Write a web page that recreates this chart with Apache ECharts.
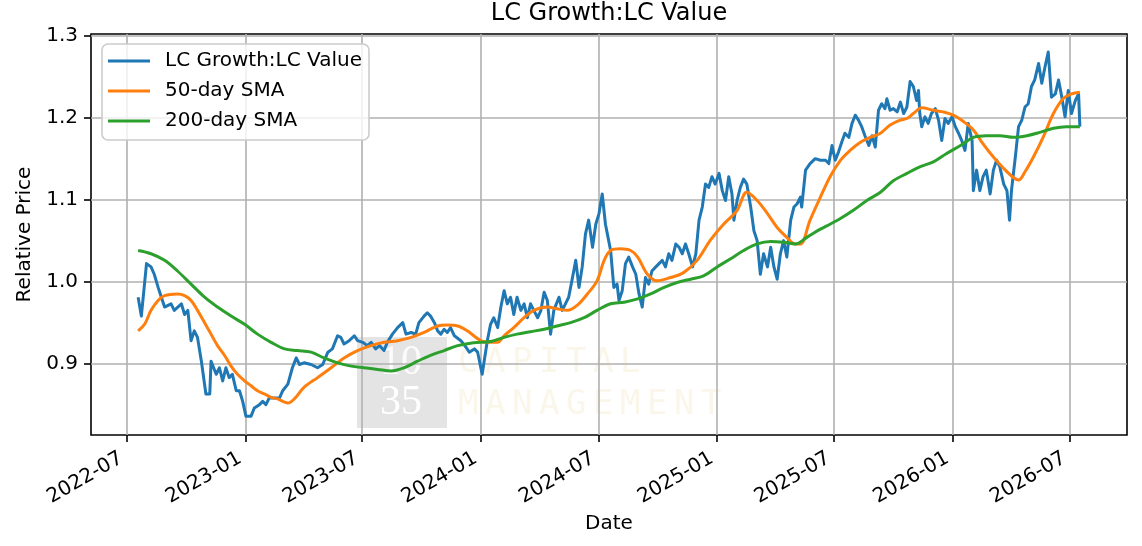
<!DOCTYPE html>
<html>
<head>
<meta charset="utf-8">
<title>LC Growth:LC Value</title>
<style>
  html, body { margin: 0; padding: 0; background: #fff; }
  #chart { width: 1142px; height: 546px; }
</style>
<script src="https://cdn.jsdelivr.net/npm/echarts@6/dist/echarts.min.js"></script>
</head>
<body>
<div id="chart"></div>
<script>
/* LC Growth : LC Value relative price with 50/200-day SMAs, matplotlib look */

const SERIES_NAMES = ["LC Growth:LC Value", "50-day SMA", "200-day SMA"];

const xTickLabels = ["2022-07", "2023-01", "2023-07", "2024-01", "2024-07",
                     "2025-01", "2025-07", "2026-01", "2026-07"];
const yTickValues = [0.9, 1.0, 1.1, 1.2, 1.3];

const priceDates = [
  "2022-07-19","2022-07-24","2022-08-01","2022-08-08","2022-08-13","2022-08-19","2022-08-24","2022-08-29",
  "2022-09-08","2022-09-13","2022-09-24","2022-09-29","2022-10-04","2022-10-09","2022-10-14","2022-10-19",
  "2022-10-25","2022-11-01","2022-11-07","2022-11-09","2022-11-17","2022-11-22","2022-11-27","2022-12-02",
  "2022-12-07","2022-12-12","2022-12-18","2022-12-23","2022-12-28",
  "2023-01-02","2023-01-10","2023-01-15","2023-01-23","2023-01-28","2023-02-02","2023-02-07","2023-02-15",
  "2023-02-23","2023-02-28","2023-03-08","2023-03-15","2023-03-21","2023-03-26","2023-04-02","2023-04-13",
  "2023-04-23","2023-05-01","2023-05-09","2023-05-16","2023-05-24","2023-05-29","2023-06-03","2023-06-11",
  "2023-06-19","2023-06-24","2023-07-02","2023-07-09","2023-07-15","2023-07-22","2023-07-28","2023-08-04",
  "2023-08-09","2023-08-17","2023-08-25","2023-09-02","2023-09-07","2023-09-15","2023-09-22","2023-09-27",
  "2023-10-05","2023-10-10","2023-10-15","2023-10-21","2023-10-26","2023-10-31","2023-11-05","2023-11-10",
  "2023-11-15","2023-11-21","2023-12-01","2023-12-09","2023-12-14","2023-12-22","2023-12-27",
  "2024-01-03","2024-01-11","2024-01-16","2024-01-21","2024-01-27","2024-02-01","2024-02-06","2024-02-11",
  "2024-02-16","2024-02-21","2024-02-26","2024-03-03","2024-03-08","2024-03-13","2024-03-18","2024-03-23",
  "2024-03-29","2024-04-03","2024-04-08","2024-04-13","2024-04-18","2024-04-23","2024-05-01","2024-05-06",
  "2024-05-11","2024-05-16","2024-05-21","2024-05-27","2024-06-01","2024-06-06","2024-06-11","2024-06-16",
  "2024-06-22","2024-06-27","2024-07-02","2024-07-07","2024-07-10","2024-07-12","2024-07-15","2024-07-20",
  "2024-07-25","2024-07-30","2024-08-02","2024-08-07","2024-08-12","2024-08-17","2024-08-23","2024-08-28",
  "2024-09-02","2024-09-07","2024-09-12","2024-09-17","2024-09-22","2024-09-28","2024-10-03","2024-10-08",
  "2024-10-13","2024-10-18","2024-10-23","2024-10-29","2024-11-03","2024-11-08","2024-11-13","2024-11-18",
  "2024-11-24","2024-11-29","2024-12-04","2024-12-09","2024-12-14","2024-12-19","2024-12-24","2024-12-29",
  "2025-01-04","2025-01-09","2025-01-14","2025-01-19","2025-01-24","2025-01-27","2025-02-01","2025-02-06",
  "2025-02-11","2025-02-16","2025-02-22","2025-02-27","2025-03-04","2025-03-09","2025-03-14","2025-03-20",
  "2025-03-25","2025-03-30","2025-04-04","2025-04-09","2025-04-14","2025-04-19","2025-04-25","2025-04-30",
  "2025-05-05","2025-05-10","2025-05-12","2025-05-18","2025-05-25","2025-06-02","2025-06-10","2025-06-18",
  "2025-06-23","2025-06-28","2025-07-03","2025-07-08","2025-07-13","2025-07-18","2025-07-24","2025-07-29",
  "2025-08-03","2025-08-08","2025-08-13","2025-08-18","2025-08-24","2025-08-29","2025-09-03","2025-09-08",
  "2025-09-13","2025-09-18","2025-09-21","2025-09-26","2025-10-01","2025-10-07","2025-10-12","2025-10-17",
  "2025-10-22","2025-10-27","2025-11-01","2025-11-06","2025-11-09","2025-11-11","2025-11-14","2025-11-19",
  "2025-11-24","2025-11-29","2025-12-05","2025-12-10","2025-12-15","2025-12-20","2025-12-25","2025-12-31",
  "2026-01-05","2026-01-10","2026-01-15","2026-01-20","2026-01-25","2026-01-31","2026-02-02","2026-02-07",
  "2026-02-12","2026-02-17","2026-02-22","2026-02-28","2026-03-05","2026-03-10","2026-03-15","2026-03-21",
  "2026-03-26","2026-03-30","2026-04-02","2026-04-08","2026-04-13","2026-04-18","2026-04-23","2026-04-28",
  "2026-05-03","2026-05-08","2026-05-14","2026-05-19","2026-05-24","2026-05-29","2026-06-03","2026-06-09",
  "2026-06-14","2026-06-19","2026-06-24","2026-06-29","2026-07-04","2026-07-10","2026-07-15","2026-07-17"
];
const priceValues = [
  0.981,0.958,1.022,1.018,1.009,0.993,0.981,0.969,
  0.973,0.965,0.973,0.960,0.965,0.928,0.940,0.932,
  0.903,0.863,0.863,0.903,0.887,0.895,0.879,0.895,
  0.883,0.887,0.867,0.867,0.854,
  0.836,0.836,0.846,0.850,0.854,0.850,0.858,0.858,
  0.858,0.867,0.875,0.895,0.907,0.899,0.901,0.899,
  0.895,0.899,0.914,0.918,0.934,0.932,0.924,0.928,
  0.934,0.928,0.926,0.922,0.926,0.918,0.922,0.916,
  0.926,0.936,0.944,0.950,0.936,0.938,0.936,0.950,
  0.958,0.962,0.958,0.950,0.940,0.936,0.942,0.938,
  0.944,0.934,0.928,0.920,0.914,0.918,0.914,
  0.887,0.928,0.948,0.956,0.944,0.969,0.989,0.973,
  0.981,0.960,0.981,0.965,0.973,0.956,0.973,0.965,
  0.956,0.965,0.987,0.977,0.936,0.965,0.981,0.965,
  0.973,0.981,1.001,1.026,0.993,1.018,1.058,1.075,
  1.042,1.070,1.083,1.107,1.109,1.070,1.058,1.038,
  0.993,0.997,0.977,0.989,1.022,1.030,1.018,1.009,
  0.985,0.969,1.005,0.997,1.013,1.018,1.022,1.026,
  1.018,1.034,1.026,1.046,1.042,1.034,1.046,1.034,
  1.018,1.034,1.075,1.091,1.119,1.115,1.128,1.119,
  1.132,1.111,1.099,1.128,1.107,1.075,1.099,1.115,
  1.125,1.119,1.091,1.062,1.050,1.009,1.034,1.018,
  1.042,1.018,1.003,1.034,1.050,1.030,1.075,1.091,
  1.095,1.103,1.091,1.136,1.144,1.150,1.148,1.148,
  1.144,1.166,1.148,1.158,1.170,1.181,1.176,1.193,
  1.203,1.197,1.189,1.178,1.166,1.178,1.164,1.209,
  1.217,1.211,1.223,1.209,1.211,1.207,1.219,1.205,
  1.213,1.244,1.238,1.221,1.233,1.205,1.189,1.201,
  1.193,1.205,1.211,1.197,1.172,1.199,1.193,1.201,
  1.189,1.181,1.172,1.160,1.193,1.172,1.111,1.136,
  1.111,1.128,1.136,1.107,1.136,1.148,1.140,1.119,
  1.111,1.075,1.111,1.152,1.189,1.197,1.213,1.217,
  1.238,1.246,1.266,1.242,1.262,1.280,1.225,1.229,
  1.246,1.225,1.201,1.233,1.205,1.221,1.229,1.189
];

const sma50Dates = [
  "2022-07-19","2022-07-29","2022-08-08","2022-08-19","2022-08-29","2022-09-18","2022-09-29","2022-10-09",
  "2022-10-19","2022-10-30","2022-11-09","2022-11-19","2022-11-30","2022-12-10","2022-12-20","2022-12-31",
  "2023-01-10","2023-01-20","2023-01-31","2023-02-10","2023-02-20","2023-03-03","2023-03-08","2023-03-18",
  "2023-04-02","2023-04-23","2023-05-14","2023-06-03","2023-06-24","2023-07-15","2023-08-04","2023-08-25",
  "2023-09-15","2023-10-05","2023-10-26","2023-11-10","2023-11-26","2023-12-11",
  "2024-01-01","2024-01-16","2024-01-27","2024-02-06","2024-02-21","2024-03-08","2024-03-23","2024-04-13",
  "2024-04-28","2024-05-14","2024-05-29","2024-06-14","2024-06-29","2024-07-10","2024-07-20","2024-08-04",
  "2024-08-20","2024-08-31","2024-09-15","2024-09-30","2024-10-21","2024-11-10","2024-12-01","2024-12-21",
  "2025-01-11","2025-02-01","2025-02-16","2025-03-04","2025-03-20","2025-04-04","2025-04-19","2025-05-02",
  "2025-05-10","2025-05-25","2025-06-10","2025-06-25","2025-07-11","2025-07-26","2025-08-11","2025-08-26",
  "2025-09-11","2025-09-26","2025-10-12","2025-10-22","2025-11-01","2025-11-14","2025-12-02","2025-12-17",
  "2026-01-02","2026-01-18","2026-02-02","2026-02-17","2026-03-05","2026-03-21","2026-04-05","2026-04-13",
  "2026-04-23","2026-05-06","2026-05-21","2026-06-06","2026-06-21","2026-07-04","2026-07-17"
];
const sma50Values = [
  0.940,0.948,0.965,0.977,0.983,0.985,0.983,0.977,
  0.965,0.950,0.936,0.922,0.910,0.897,0.887,0.879,
  0.873,0.867,0.863,0.859,0.857,0.853,0.852,0.857,
  0.871,0.883,0.895,0.907,0.916,0.922,0.926,0.928,
  0.932,0.938,0.946,0.947,0.946,0.940,
  0.928,0.926,0.926,0.934,0.944,0.956,0.965,0.969,
  0.967,0.965,0.971,0.985,1.001,1.026,1.038,1.040,
  1.038,1.030,1.009,1.001,1.005,1.011,1.026,1.050,
  1.070,1.087,1.109,1.099,1.083,1.066,1.054,1.046,
  1.046,1.075,1.103,1.128,1.148,1.160,1.170,1.176,
  1.181,1.191,1.197,1.199,1.205,1.212,1.209,1.207,
  1.203,1.195,1.185,1.168,1.152,1.138,1.127,1.124,
  1.134,1.152,1.176,1.205,1.223,1.229,1.231
];

const sma200Dates = [
  "2022-07-19","2022-08-08","2022-08-29","2022-09-18","2022-10-09","2022-10-30","2022-11-19","2022-12-10",
  "2022-12-31","2023-01-20","2023-02-10","2023-03-03","2023-03-23","2023-04-13","2023-05-03","2023-05-24",
  "2023-06-14","2023-07-04","2023-07-25","2023-08-15","2023-09-04","2023-09-25","2023-10-15","2023-11-05",
  "2023-11-26","2023-12-16",
  "2024-01-01","2024-01-16","2024-02-06","2024-02-26","2024-03-18","2024-04-08","2024-04-28","2024-05-19",
  "2024-06-09","2024-06-29","2024-07-20","2024-08-10","2024-08-31","2024-09-20","2024-10-11","2024-10-31",
  "2024-11-21","2024-12-11","2025-01-01","2025-01-22","2025-02-11","2025-03-04","2025-03-25","2025-04-14",
  "2025-05-02","2025-05-20","2025-06-10","2025-06-20","2025-07-11","2025-07-31","2025-08-21","2025-09-11",
  "2025-10-01","2025-10-22","2025-11-11","2025-12-02","2025-12-22","2026-01-13","2026-02-02","2026-02-22",
  "2026-03-15","2026-04-05","2026-04-26","2026-05-16","2026-06-06","2026-06-26","2026-07-17"
];
const sma200Values = [
  1.038,1.034,1.026,1.013,0.997,0.981,0.969,0.958,
  0.948,0.936,0.926,0.918,0.916,0.914,0.907,0.901,
  0.897,0.895,0.893,0.891,0.895,0.903,0.910,0.916,
  0.922,0.925,
  0.926,0.927,0.932,0.936,0.939,0.942,0.946,0.950,
  0.956,0.965,0.973,0.975,0.979,0.985,0.993,0.999,
  1.003,1.007,1.018,1.028,1.038,1.046,1.049,1.048,
  1.046,1.054,1.064,1.068,1.077,1.087,1.099,1.109,
  1.123,1.132,1.140,1.146,1.156,1.166,1.176,1.178,
  1.178,1.176,1.178,1.182,1.187,1.189,1.189
];

const COLORS = ["#1f77b4", "#ff7f0e", "#2ca02c"];
const FONT = "DejaVu Sans";

// dates go onto a plain value axis as timestamps so the half-year ticks can be pinned
const toTime = (s) => echarts.time.parse(s).getTime();
const pairs = (dates, vals) => dates.map((d, i) => [toTime(d), vals[i]]);
const xTickTimes = xTickLabels.map((s) => toTime(s + "-01"));

/* watermark: grey "10 / 35" block and faint spaced lettering */
function watermark() {
  const els = [
    { type: "rect", shape: { x: 357, y: 337, width: 90, height: 91 },
      style: { fill: "rgba(190,190,190,0.42)" } },
    { type: "text", x: 401, y: 363,
      style: { text: "10", font: '42px "Liberation Serif"', fill: "rgba(255,255,255,0.85)", align: "center", verticalAlign: "middle" } },
    { type: "text", x: 401, y: 403,
      style: { text: "35", font: '42px "Liberation Serif"', fill: "#ffffff", align: "center", verticalAlign: "middle" } },
  ];
  [["CAPITAL", 363], ["MANAGEMENT", 405]].forEach(([word, y]) => {
    word.split("").forEach((ch, i) => {
      els.push({ type: "text", x: 458 + i * 27, y,
        style: { text: ch, font: '34px "DejaVu Sans Mono"', fill: "#fbf6ea", verticalAlign: "middle" } });
    });
  });
  return els.map((e) => ({ ...e, silent: true, z: -1 }));
}

const chart = echarts.init(document.getElementById("chart"), null, { renderer: "canvas" });

const lineSeries = (i, data, smooth) => ({
  name: SERIES_NAMES[i],
  type: "line",
  data,
  symbol: "none",
  smooth,
  animation: false,
  z: 2,
  lineStyle: { color: COLORS[i], width: 3, join: "round" },
  itemStyle: { color: COLORS[i] },
  emphasis: { disabled: true },
});

chart.setOption({
  backgroundColor: "#ffffff",
  animation: false,
  title: {
    text: "LC Growth:LC Value",
    left: 609, top: 2, padding: 0, textAlign: "center",
    textStyle: { color: "#000", fontSize: 24, fontWeight: "normal", fontFamily: FONT },
  },
  grid: {
    left: 91, right: 15, top: 34, bottom: 111,
    show: true, borderColor: "#000", borderWidth: 1.6, backgroundColor: "transparent",
  },
  legend: {
    data: SERIES_NAMES,
    orient: "vertical",
    left: 102, top: 44,
    z: 10,
    padding: [7, 7, 9, 6],
    itemWidth: 42, itemHeight: 3, itemGap: 10,
    icon: "rect",
    backgroundColor: "rgba(255,255,255,0.8)",
    borderColor: "#cccccc", borderWidth: 1.6, borderRadius: 6,
    textStyle: { color: "#000", fontSize: 20, fontFamily: FONT, lineHeight: 20, padding: [0, 0, 0, 10] },
  },
  xAxis: {
    type: "value",
    min: toTime("2022-05-07"), max: toTime("2026-09-28"),
    axisLine: { show: false },
    splitLine: { show: false },
    axisTick: { show: true, customValues: xTickTimes, length: 7, lineStyle: { color: "#000", width: 1.6 } },
    axisLabel: {
      customValues: xTickTimes,
      formatter: (v) => xTickLabels[xTickTimes.indexOf(v)] || "",
      rotate: 30, margin: 19, padding: [0, 6, 0, 0],
      color: "#000", fontSize: 20, fontFamily: FONT,
    },
    name: "Date", nameLocation: "middle", nameGap: 76,
    nameTextStyle: { color: "#000", fontSize: 20, fontFamily: FONT },
  },
  yAxis: {
    type: "value",
    min: 0.813, max: 1.302,
    axisLine: { show: false },
    splitLine: { show: false },
    axisTick: { show: true, customValues: yTickValues, length: 7, lineStyle: { color: "#000", width: 1.6 } },
    axisLabel: {
      customValues: yTickValues,
      formatter: (v) => v.toFixed(1),
      margin: 13, color: "#000", fontSize: 20, fontFamily: FONT,
    },
    name: "Relative Price", nameLocation: "middle", nameGap: 56,
    nameTextStyle: { color: "#000", fontSize: 20, fontFamily: FONT },
  },
  graphic: watermark(),
  series: [
    // grid lines: markLine markers default to z 5, pull them under the data lines
    {
      type: "line", data: [], z: 1, silent: true,
      markLine: {
        z: 1,
        silent: true, symbol: "none", animation: false,
        label: { show: false },
        emphasis: { disabled: true },
        lineStyle: { color: "#b0b0b0", width: 1.6, type: "solid" },
        data: [
          ...xTickTimes.map((t) => ({ xAxis: t })),
          ...yTickValues.map((v) => ({ yAxis: v })),
        ],
      },
    },
    lineSeries(0, pairs(priceDates, priceValues), false),
    lineSeries(1, pairs(sma50Dates, sma50Values), 0.35),
    lineSeries(2, pairs(sma200Dates, sma200Values), 0.35),
  ],
});
</script>
</body>
</html>
